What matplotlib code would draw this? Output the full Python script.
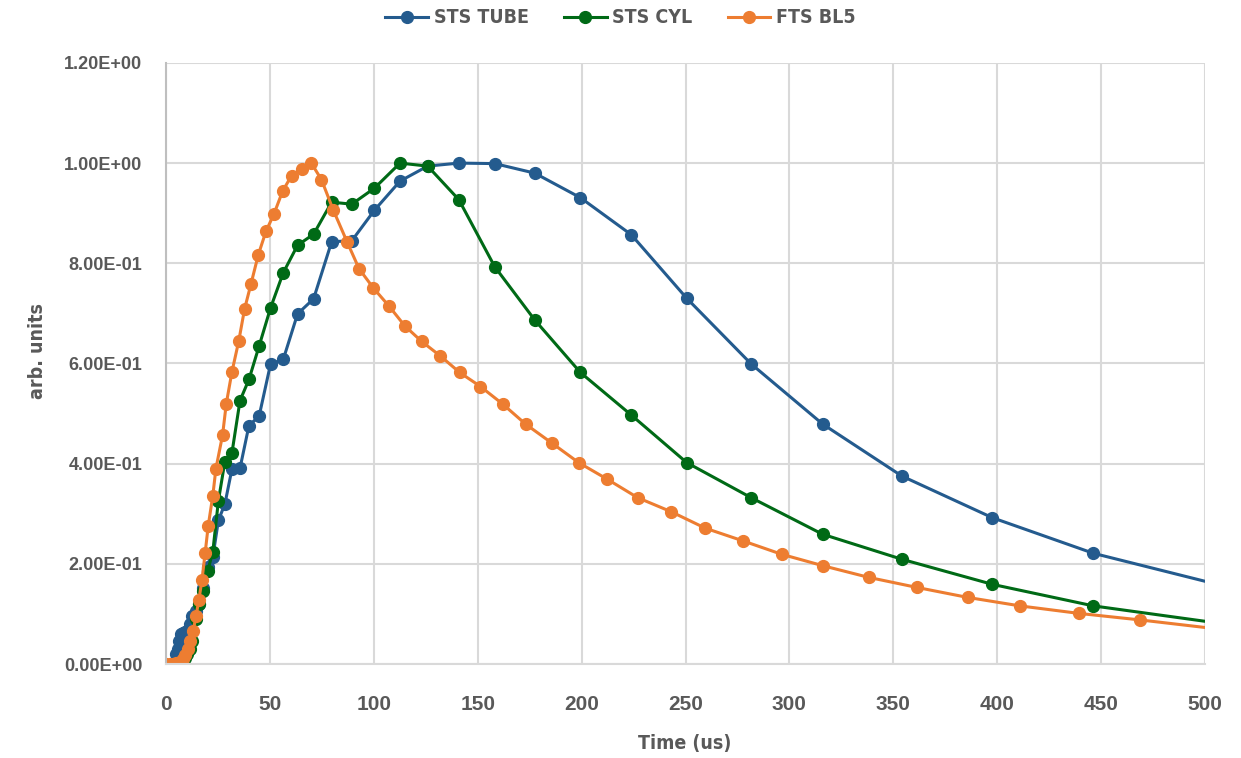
import numpy as np
import matplotlib.pyplot as plt

# STS TUBE / STS CYL share the same time grid
t_sts = [5.0, 5.6, 6.3, 7.1, 8.0, 8.9, 10.0, 11.3, 12.6, 14.2, 15.9, 17.9, 20.0, 22.5,
         25.2, 28.3, 31.7, 35.6, 39.9, 44.8, 50.3, 56.4, 63.3, 71.0, 79.7, 89.4, 100.3,
         112.6, 125.9, 140.9, 158.2, 177.4, 199.4, 223.9, 250.6, 281.6, 316.0, 354.2,
         397.7, 446.3, 504.0]
sts_tube = [0.02, 0.03, 0.045, 0.06, 0.062, 0.064, 0.066, 0.08, 0.095, 0.105, 0.12, 0.151,
            0.193, 0.213, 0.287, 0.319, 0.389, 0.391, 0.476, 0.495, 0.599, 0.608, 0.699,
            0.729, 0.843, 0.845, 0.906, 0.964, 0.994, 1.0, 0.999, 0.98, 0.931, 0.857,
            0.73, 0.599, 0.479, 0.375, 0.292, 0.221, 0.161]
sts_cyl = [0.0, 0.0, 0.003, 0.005, 0.008, 0.012, 0.02, 0.03, 0.045, 0.09, 0.12, 0.146,
           0.185, 0.224, 0.326, 0.404, 0.421, 0.526, 0.568, 0.635, 0.711, 0.781, 0.836,
           0.858, 0.922, 0.918, 0.95, 1.0, 0.994, 0.927, 0.793, 0.687, 0.582, 0.497,
           0.402, 0.332, 0.259, 0.209, 0.159, 0.116, 0.083]

t_fts = [0.0, 2.0, 3.5, 5.0, 6.5, 8.0, 9.2, 10.5, 11.7, 13.0, 14.4, 15.8, 17.3, 18.8,
         20.3, 22.5, 24.0, 27.2, 29.0, 31.7, 35.0, 37.8, 40.9, 44.4, 48.1, 51.9, 56.1,
         60.4, 65.2, 69.9, 74.8, 80.4, 87.2, 92.9, 99.7, 107.4, 114.9, 123.0, 132.0,
         141.3, 151.3, 162.0, 173.0, 185.7, 198.6, 212.3, 227.0, 243.1, 259.6, 277.5,
         296.3, 316.3, 338.1, 361.2, 385.7, 411.0, 439.4, 468.8, 504.0]
fts_bl5 = [0.0, 0.0, 0.001, 0.003, 0.005, 0.01, 0.018, 0.03, 0.045, 0.065, 0.095, 0.128,
           0.168, 0.221, 0.276, 0.336, 0.39, 0.457, 0.52, 0.583, 0.645, 0.709, 0.759,
           0.817, 0.864, 0.898, 0.944, 0.975, 0.989, 1.0, 0.967, 0.907, 0.842, 0.789,
           0.751, 0.714, 0.675, 0.644, 0.615, 0.582, 0.554, 0.519, 0.479, 0.441, 0.402,
           0.369, 0.332, 0.304, 0.271, 0.246, 0.219, 0.196, 0.173, 0.153, 0.133, 0.116,
           0.101, 0.088, 0.071]

x_ticks = np.arange(0, 501, 50)
y_ticks = np.arange(0, 1.21, 0.2)

gray = '#595959'
cond = dict(family='DejaVu Sans', stretch='condensed', weight='bold')

fig = plt.figure(figsize=(12.41, 7.58), dpi=100)
ax = fig.add_axes([0.1338, 0.124, 0.8372, 0.793])

ax.plot(t_sts, sts_tube, '-o', color='#245B8E', lw=2.2, ms=8.5, label='STS TUBE')
ax.plot(t_sts, sts_cyl, '-o', color='#006A16', lw=2.2, ms=8.5, label='STS CYL')
ax.plot(t_fts, fts_bl5, '-o', color='#ED7D31', lw=2.2, ms=8.5, label='FTS BL5')

ax.set_xlim(0, 500)
ax.set_ylim(0, 1.2)
ax.set_xticks(x_ticks)
ax.set_yticks(y_ticks)
ax.set_yticklabels(['%.2E' % v for v in y_ticks])
ax.grid(True, color='#D9D9D9', lw=1.5)
ax.set_axisbelow(True)
for s in ['top', 'right']:
    ax.spines[s].set_visible(False)
ax.spines['left'].set_color('#BFBFBF')
ax.spines['bottom'].set_color('#D9D9D9')
ax.spines['left'].set_linewidth(1.5)
ax.spines['bottom'].set_linewidth(1.5)
ax.tick_params(axis='x', length=0, pad=22)
ax.tick_params(axis='y', length=0, pad=17)
for lab in ax.get_xticklabels():
    lab.set_fontsize(15)
    lab.set_fontweight('bold')
    lab.set_color(gray)
    lab.set_family('Liberation Sans')
for lab in ax.get_yticklabels():
    lab.set_fontsize(13)
    lab.set_fontweight('bold')
    lab.set_color(gray)
    lab.set_family('Liberation Sans')

ax.set_xlabel('Time (us)', fontsize=14, color=gray, **cond)
ax.set_ylabel('arb. units', fontsize=14, color=gray, **cond)
ax.xaxis.set_label_coords(0.4995, -0.117)
ax.yaxis.set_label_coords(-0.115, 0.52)

leg = fig.legend(loc='upper center', bbox_to_anchor=(0.5, 1.012), ncol=3, frameon=False,
                 prop=dict(size=14, **cond),
                 handlelength=2.2, columnspacing=1.8, handletextpad=0.3)
for txt in leg.get_texts():
    txt.set_color(gray)

fig.savefig('out.png', dpi=100)
